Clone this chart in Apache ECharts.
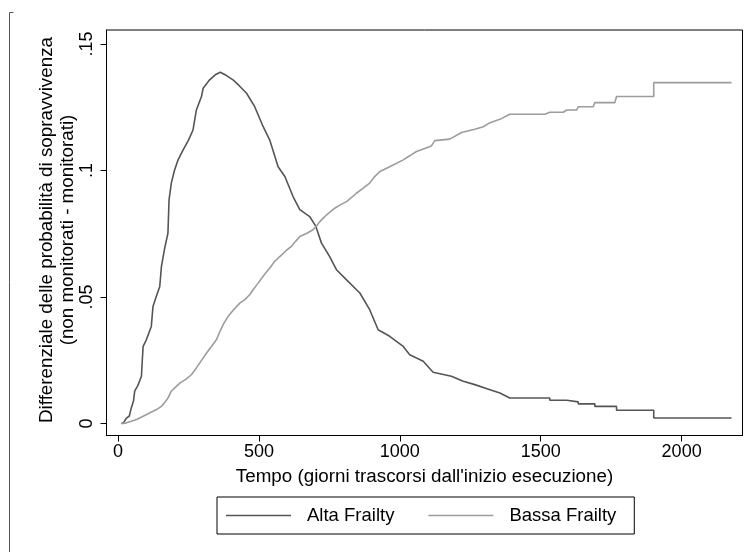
<!DOCTYPE html>
<html>
<head>
<meta charset="utf-8">
<script src="https://cdn.jsdelivr.net/npm/echarts@6/dist/echarts.min.js"></script>
<style>
html,body{margin:0;padding:0;background:#fff;}
#chart{width:750px;height:552px;}
</style>
</head>
<body>
<div id="chart"></div>
<script>
// ---- data ----
var seriesNames = ['Alta Frailty', 'Bassa Frailty'];
var xTicks = [0, 500, 1000, 1500, 2000];
var yTicks = [0, 0.05, 0.1, 0.15];
var yTickLabels = ['0', '.05', '.1', '.15'];
var xTitle = "Tempo (giorni trascorsi dall'inizio esecuzione)";
var yTitleLines = ['Differenziale delle probabilità di sopravvivenza', '(non monitorati - monitorati)'];

var altaT = [12,20,30,40,47,55,59,70,83,86,89,100,118,124,135,148,154,165,177,181,189,200,213,231,250,266,278,296,302,325,345,363,385,408,430,456,485,515,538,568,592,621,645,680,702,722,751,775,811,858,893,923,964,1012,1035,1083,1118,1183,1225,1266,1320,1355,1390,1532,1532,1592,1592,1633,1633,1692,1692,1769,1769,1901,1901,2177];
var altaV = [0,0.0005,0.0022,0.0030,0.0062,0.0090,0.0128,0.0150,0.0187,0.0250,0.0305,0.0330,0.0384,0.0463,0.0500,0.0542,0.0621,0.0690,0.0752,0.0884,0.0950,0.1000,0.1042,0.1081,0.1120,0.1160,0.1239,0.1292,0.1325,0.1358,0.1378,0.1388,0.1375,0.1358,0.1335,0.1305,0.1252,0.1173,0.1121,0.1015,0.0976,0.0897,0.0845,0.0818,0.0779,0.0713,0.0660,0.0608,0.0568,0.0516,0.0450,0.0371,0.0345,0.0305,0.0272,0.0246,0.0203,0.0187,0.0167,0.0154,0.0134,0.0121,0.0101,0.0101,0.0092,0.0092,0.0086,0.0086,0.0078,0.0078,0.0068,0.0068,0.0053,0.0053,0.0022,0.0022];

var bassaT = [12,30,47,70,89,105,124,140,154,165,177,189,205,219,240,260,278,295,314,330,349,360,373,390,410,432,450,467,480,497,520,538,555,574,595,615,630,645,670,692,705,716,740,769,790,811,846,870,893,910,929,964,1012,1035,1059,1112,1124,1177,1219,1266,1296,1320,1355,1390,1515,1532,1580,1592,1628,1633,1686,1692,1763,1769,1901,1901,2177];
var bassaV = [0,0.0003,0.0009,0.0018,0.0029,0.0038,0.0049,0.0058,0.0068,0.0082,0.0101,0.0128,0.0145,0.0160,0.0175,0.0193,0.0220,0.0248,0.0279,0.0303,0.0331,0.0360,0.0391,0.0423,0.0450,0.0476,0.0490,0.0509,0.0530,0.0555,0.0590,0.0614,0.0640,0.0660,0.0682,0.0700,0.0720,0.0739,0.0752,0.0766,0.0782,0.0798,0.0825,0.0851,0.0865,0.0877,0.0910,0.0930,0.0950,0.0975,0.0996,0.1015,0.1042,0.1058,0.1075,0.1097,0.1118,0.1124,0.1150,0.1163,0.1173,0.1189,0.1202,0.1222,0.1222,0.1230,0.1230,0.1239,0.1239,0.1252,0.1252,0.1268,0.1268,0.1292,0.1292,0.1347,0.1347];

function zip(t, v) { return t.map(function (x, i) { return [x, v[i]]; }); }

var FONT = '"Liberation Sans", Arial, Helvetica, sans-serif';
var FS = 18;      // tick labels
var FT = 18.8;    // axis titles
var FL = 18.5;    // legend
var chart = echarts.init(document.getElementById('chart'), null, {renderer: 'canvas'});

chart.setOption({
  animation: false,
  backgroundColor: '#fff',
  textStyle: {fontFamily: FONT},
  grid: {left: 106.5, top: 30, right: 7.5, bottom: 116.5, show: true, borderColor: '#000', borderWidth: 1, containLabel: false},
  xAxis: {
    type: 'value', min: -41, max: 2216,
    name: xTitle, nameLocation: 'middle', nameGap: 32,
    nameTextStyle: {fontSize: FT, color: '#000', fontFamily: FONT},
    axisLine: {show: true, onZero: false, lineStyle: {color: '#000', width: 1}},
    axisTick: {show: true, length: 6, customValues: xTicks, lineStyle: {color: '#000'}},
    axisLabel: {customValues: xTicks, fontSize: FS, color: '#000', margin: 8, fontFamily: FONT,
      formatter: function (v) { return String(v); }},
    splitLine: {show: false}
  },
  yAxis: {
    type: 'value', min: -0.0047, max: 0.1555,
    axisLine: {show: true, onZero: false, lineStyle: {color: '#000', width: 1}},
    axisTick: {show: true, length: 6, customValues: yTicks, lineStyle: {color: '#000'}},
    axisLabel: {
      customValues: yTicks, rotate: 90, fontSize: FS, color: '#000', margin: 10, fontFamily: FONT,
      formatter: function (v) { var i = yTicks.indexOf(v); return i >= 0 ? yTickLabels[i] : ''; }
    },
    splitLine: {show: false}
  },
  legend: {
    data: seriesNames,
    left: 217, top: 497,
    orient: 'horizontal',
    icon: 'rect',
    itemWidth: 65, itemHeight: 1.6, itemGap: 34,
    padding: [9, 18, 9, 9],
    borderColor: '#000', borderWidth: 1,
    textStyle: {fontSize: FL, lineHeight: 18, color: '#000', fontFamily: FONT, padding: [0, 0, 0, 11]}
  },
  graphic: [
    {type: 'polyline', shape: {points: [[13.5, 12.5], [9.5, 12.5], [9.5, 552]]}, style: {stroke: '#555', lineWidth: 1, fill: null}, silent: true},
    {type: 'text', x: 47, y: 230, rotation: Math.PI / 2, style: {text: yTitleLines[0], font: FT + 'px ' + FONT, fill: '#000', textAlign: 'center', textVerticalAlign: 'middle'}},
    {type: 'text', x: 68, y: 230, rotation: Math.PI / 2, style: {text: yTitleLines[1], font: FT + 'px ' + FONT, fill: '#000', textAlign: 'center', textVerticalAlign: 'middle'}}
  ],
  series: [
    {name: seriesNames[0], type: 'line', data: zip(altaT, altaV), symbol: 'none', showSymbol: false,
     lineStyle: {color: '#555555', width: 1.6}, itemStyle: {color: '#555555'}},
    {name: seriesNames[1], type: 'line', data: zip(bassaT, bassaV), symbol: 'none', showSymbol: false,
     lineStyle: {color: '#9c9c9c', width: 1.6}, itemStyle: {color: '#9c9c9c'}}
  ]
});
</script>
</body>
</html>
